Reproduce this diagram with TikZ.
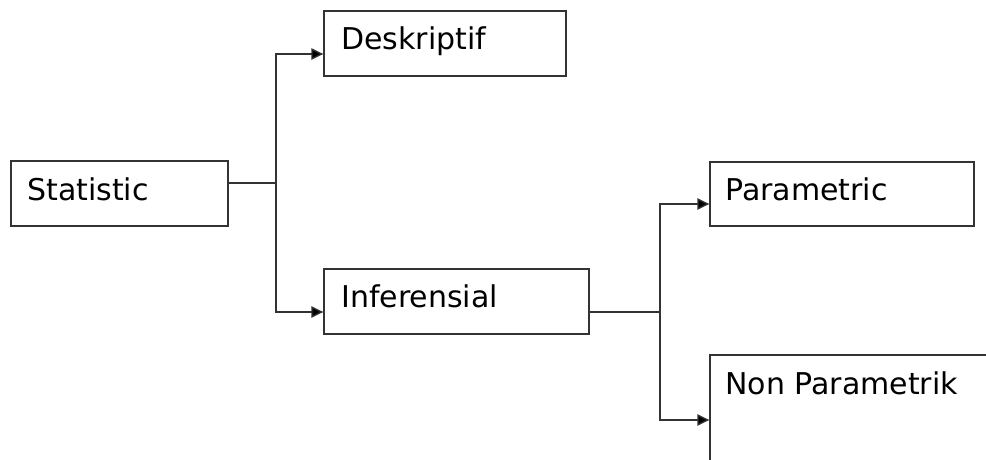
\documentclass[tikz,border=0pt]{standalone}
\usepackage{fontspec}
\setmainfont{DejaVu Sans}
\usetikzlibrary{fit,arrows.meta}
\tikzset{
  box/.style={draw=black!80, line width=1pt, inner sep=0pt, rectangle},
  lbl/.style={anchor=base west, inner sep=0pt, font=\fontsize{22.5}{27}\selectfont, text=black},
  conn/.style={draw=black!80, line width=1pt},
  arr/.style={conn, -{Triangle[length=9pt,width=8.5pt,fill=black]}},
}
\begin{document}
\begin{tikzpicture}[x=0.75pt,y=-0.75pt]
\useasboundingbox (0,0) rectangle (986,460);
\fill[white] (0,0) rectangle (986,460);
\clip (0,0) rectangle (986,460);
% boxes
\node[box, fit={(11,161) (228,226)}] (stat) {};
\node[box, fit={(324,11) (566,76)}] (desk) {};
\node[box, fit={(324,269) (589,334)}] (inf) {};
\node[box, fit={(710,162) (974,226)}] (par) {};
\node[box, fit={(710,355) (1010,490)}] (nonpar) {};
% labels
\node[lbl] (tstat) at (27,200) {Statistic};
\node[lbl] (tdesk) at (341,50) {Deskriptif};
\node[lbl] (tinf) at (341,307) {Inferensial};
\node[lbl] (tpar) at (725,200) {Parametric};
\node[lbl] (tnon) at (725,394) {Non Parametrik};
% junctions
\coordinate (j1) at (276,183);
\coordinate (d1) at (276,54);
\coordinate (i1) at (276,312);
\coordinate (j2) at (660,312);
\coordinate (p1) at (660,204);
\coordinate (n1) at (660,420);
% connectors
\draw[conn] (j1 -| stat.east) -- (j1);
\draw[arr] (j1) -- (d1) -- (d1 -| desk.west);
\draw[arr] (j1) -- (i1) -- (i1 -| inf.west);
\draw[conn] (j2 -| inf.east) -- (j2);
\draw[arr] (j2) -- (p1) -- (p1 -| par.west);
\draw[arr] (j2) -- (n1) -- (n1 -| nonpar.west);
\end{tikzpicture}
\end{document}
